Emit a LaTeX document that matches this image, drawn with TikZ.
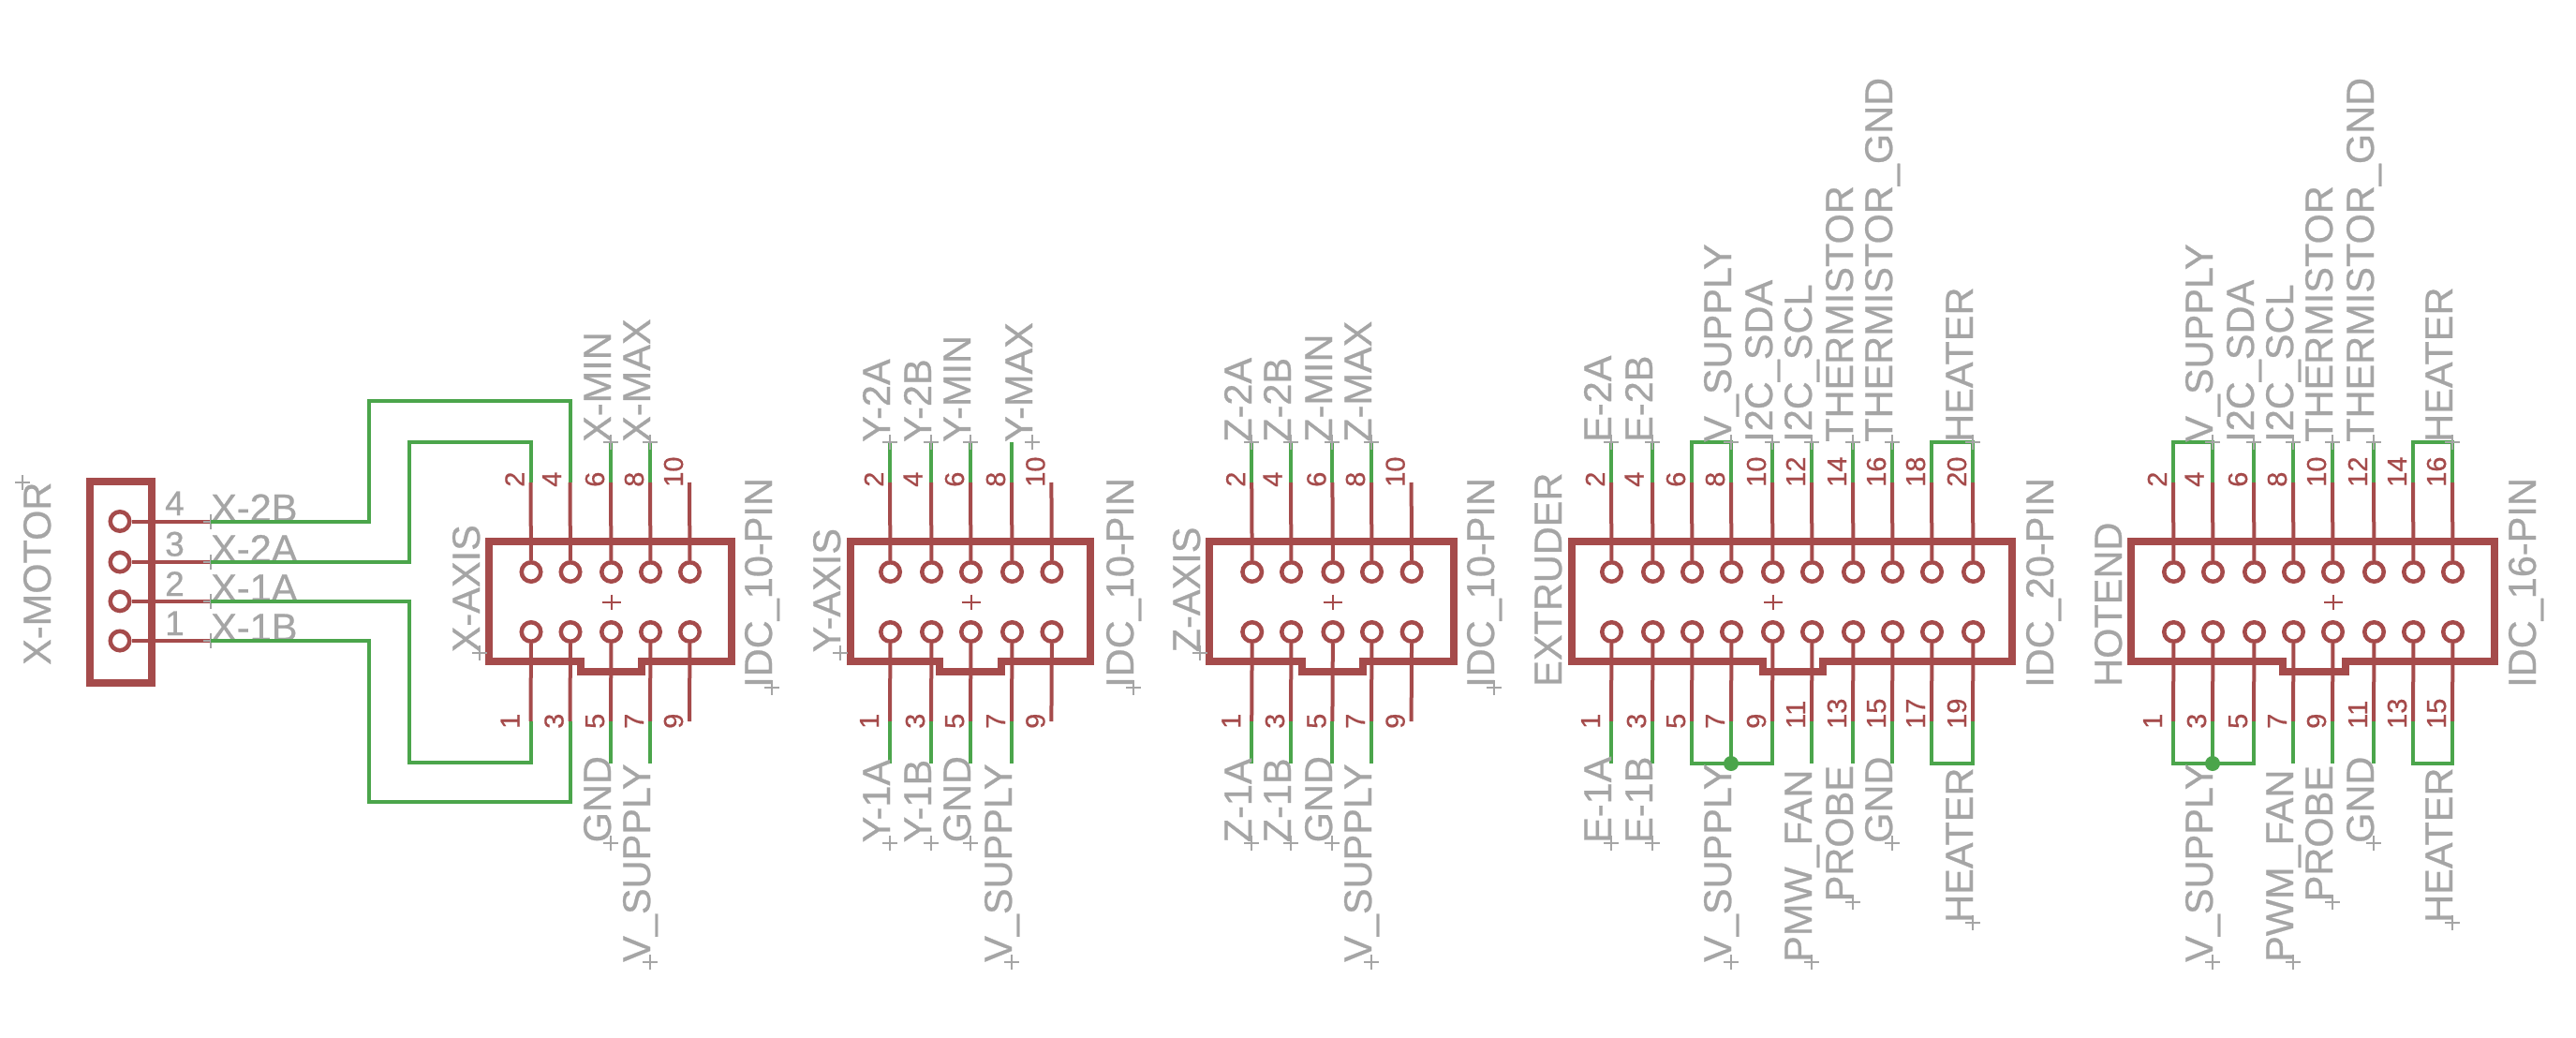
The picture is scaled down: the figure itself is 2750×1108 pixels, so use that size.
\documentclass[tikz,border=0pt]{standalone}
\usepackage{fontspec}
\setmainfont{Liberation Sans}[FakeBold=0.6]
\definecolor{eagred}{RGB}{165,75,75}
\definecolor{eaggreen}{RGB}{75,165,75}
\definecolor{eaggrey}{RGB}{165,165,165}
\newcounter{labc}
\tikzset{
  x=1pt,y=-1pt,
  boxline/.style={draw=eagred,line width=8pt,line join=miter},
  pinline/.style={draw=eagred,line width=4pt},
  padring/.style={circle,draw=eagred,line width=4.5pt,fill=white,minimum size=20.5pt,inner sep=0pt},
  gwire/.style={draw=eaggreen,line width=4pt,line join=miter},
  crossmark/.style={draw=eaggrey,line width=2pt},
  cmark/.style={draw=eagred,line width=2pt},
  biglab/.style={text=eaggrey,inner sep=0pt,font=\fontsize{41.5}{41.5}\selectfont},
  pinnum/.style={text=eagred,inner sep=0pt,rotate=90,anchor=base west,font=\fontsize{29}{29}\selectfont},
  motnum/.style={text=eaggrey,inner sep=0pt,anchor=base west,font=\fontsize{37}{37}\selectfont},
}
% rotated grey label with origin cross
\newcommand{\vlab}[3]{%
  \stepcounter{labc}%
  \node[biglab,rotate=90,anchor=base west] (lab\arabic{labc}) at (#1,#2) {#3};%
  \draw[crossmark] (#1-8,#2)--(#1+8,#2) (#1,#2-8)--(#1,#2+8);}
% same without the cross
\newcommand{\vlabn}[3]{%
  \stepcounter{labc}%
  \node[biglab,rotate=90,anchor=base west] (lab\arabic{labc}) at (#1,#2) {#3};}
% horizontal label with origin cross
\newcommand{\hlab}[3]{%
  \stepcounter{labc}%
  \node[biglab,anchor=base west] (lab\arabic{labc}) at (#1,#2) {#3};%
  \draw[crossmark] (#1-8,#2)--(#1+8,#2) (#1,#2-8)--(#1,#2+8);}
% header: #1 name, #2 left, #3 right, #4 notch left, #5 notch right, #6 centre x, #7 list of pin x
\newcommand{\hdr}[7]{%
  \foreach \px [count=\pi] in {#7} {%
    \pgfmathtruncatemacro{\nt}{2*\pi}%
    \pgfmathtruncatemacro{\nb}{2*\pi-1}%
    \coordinate (#1-t\pi) at (\px,515);%
    \coordinate (#1-b\pi) at (\px,770);%
    \coordinate (#1-gt\pi) at (\px,472);%
    \coordinate (#1-gb\pi) at (\px,815);%
    \node[padring] (#1-pt\pi) at (\px+0.5,610.5) {};%
    \node[padring] (#1-pb\pi) at (\px+0.5,674.5) {};%
    \draw[pinline] (#1-t\pi) -- (#1-pt\pi);%
    \draw[pinline] (#1-b\pi) -- (#1-pb\pi);%
    \pgfmathsetmacro{\ot}{ifthenelse(\nt==4,9.5,7)}%
    \pgfmathsetmacro{\ob}{ifthenelse(\nb==1,12,7)}%
    \node[pinnum] (#1-nt\pi) at (\px-\ot,520) {\nt};%
    \node[pinnum] (#1-nb\pi) at (\px-\ob,778) {\nb};%
  }%
  \draw[boxline] (#2,578) -- (#3,578) -- (#3,705.5) -- (#5,705.5) -- (#5,717) -- (#4,717) -- (#4,705.5) -- (#2,705.5) -- cycle;%
  \draw[cmark] (#6-10,642.5)--(#6+10,642.5) (#6,634.5)--(#6,650.5);%
}
\newcommand{\gt}[2]{\draw[gwire] (#1-t#2) -- (#1-gt#2);}
\newcommand{\gb}[2]{\draw[gwire] (#1-b#2) -- (#1-gb#2);}
\newcommand{\gtj}[3]{\draw[gwire] (#1-t#2) -- (#1-gt#2) -- (#1-gt#3) -- (#1-t#3);}
\newcommand{\gbj}[3]{\draw[gwire] (#1-b#2) -- (#1-gb#2) -- (#1-gb#3) -- (#1-b#3);}
\begin{document}
\begin{tikzpicture}
\useasboundingbox (0,0) rectangle (2750,1108);
\fill[white] (0,0) rectangle (2750,1108);

% ---------- motor connector
\draw[boxline] (96,514) rectangle (161.5,729);
\foreach \yy/\k in {684/1,641.8/2,600/3,556.5/4} {
  \node[padring] (M-p\k) at (128,\yy) {};
  \coordinate (M-e\k) at (225,\yy);
  \draw[pinline] (M-p\k) -- (M-e\k);
}
\node[motnum] (M-n4) at (176,550) {4};
\node[motnum] (M-n3) at (176,593.5) {3};
\node[motnum] (M-n2) at (176,636) {2};
\node[motnum] (M-n1) at (176,678) {1};
\hlab{225}{556.5}{X-2B}
\hlab{225}{600}{X-2A}
\hlab{225}{641.8}{X-1A}
\hlab{225}{684}{X-1B}
\vlabn{54}{710}{X-MOTOR}
\draw[crossmark] (16,515)--(32,515) (24,507)--(24,523);

% ---------- X axis
\hdr{X}{522}{780.5}{619.5}{684.5}{652.5}{566.5,608.5,652,694,736}
\coordinate (w2) at (437.4,471.6);
\coordinate (w4) at (394,428);
\coordinate (w1) at (437.4,813.5);
\coordinate (w3) at (394,856);
\draw[gwire] (M-e3) -| (w2) -| (X-t1);
\draw[gwire] (M-e4) -| (w4) -| (X-t2);
\draw[gwire] (M-e2) -| (w1) -| (X-b1);
\draw[gwire] (M-e1) -| (w3) -| (X-b2);
\gt{X}{3}\gt{X}{4}\gb{X}{3}\gb{X}{4}
\vlab{652}{472}{X-MIN}
\vlab{694}{472}{X-MAX}
\vlab{652}{899.5}{GND}
\vlab{694}{1027}{V\_SUPPLY}
\vlab{512}{696.5}{X-AXIS}
\vlab{824}{734}{IDC\_10-PIN}

% ---------- Y axis
\hdr{Y}{907.7}{1164.3}{1003}{1069.4}{1036.5}{950,994,1036,1080,1122.4}
\gt{Y}{1}\gt{Y}{2}\gt{Y}{3}\gt{Y}{4}\gb{Y}{1}\gb{Y}{2}\gb{Y}{3}\gb{Y}{4}
\vlab{950}{472}{Y-2A}
\vlab{994}{472}{Y-2B}
\vlab{1036}{472}{Y-MIN}
\vlab{1102}{472}{Y-MAX}
\vlab{950}{899.5}{Y-1A}
\vlab{994}{899.5}{Y-1B}
\vlab{1036}{899.5}{GND}
\vlab{1080}{1027}{V\_SUPPLY}
\vlab{897}{696.5}{Y-AXIS}
\vlab{1210}{734}{IDC\_10-PIN}

% ---------- Z axis
\hdr{Z}{1291.3}{1551.5}{1389.8}{1455}{1422.5}{1336.2,1378,1422.4,1464,1506.6}
\gt{Z}{1}\gt{Z}{2}\gt{Z}{3}\gt{Z}{4}\gb{Z}{1}\gb{Z}{2}\gb{Z}{3}\gb{Z}{4}
\vlab{1336}{472}{Z-2A}
\vlab{1378}{472}{Z-2B}
\vlab{1422}{472}{Z-MIN}
\vlab{1464}{472}{Z-MAX}
\vlab{1336}{899.5}{Z-1A}
\vlab{1378}{899.5}{Z-1B}
\vlab{1422}{899.5}{GND}
\vlab{1464}{1027}{V\_SUPPLY}
\vlab{1281}{696.5}{Z-AXIS}
\vlab{1595}{734}{IDC\_10-PIN}

% ---------- Extruder
\hdr{E}{1678}{2148}{1882}{1946}{1893}{1720,1764,1806,1848,1892,1934,1978,2020,2062,2106}
\gt{E}{1}\gt{E}{2}\gtj{E}{3}{4}\gt{E}{5}\gt{E}{6}\gt{E}{7}\gt{E}{8}\gtj{E}{9}{10}
\gb{E}{1}\gb{E}{2}
\draw[gwire] (E-b3) -- (E-gb3) -- (E-gb5) -- (E-b5);
\gb{E}{4}\gb{E}{6}\gb{E}{7}\gb{E}{8}\gbj{E}{9}{10}
\fill[eaggreen] (E-gb4) circle (8);
\vlab{1720}{472}{E-2A}
\vlab{1764}{472}{E-2B}
\vlab{1848}{472}{V\_SUPPLY}
\vlab{1892}{472}{I2C\_SDA}
\vlab{1934}{472}{I2C\_SCL}
\vlab{1978}{472}{THERMISTOR}
\vlab{2020}{472}{THERMISTOR\_GND}
\vlab{2106}{472}{HEATER}
\vlab{1720}{900}{E-1A}
\vlab{1764}{900}{E-1B}
\vlab{1848}{1027}{V\_SUPPLY}
\vlab{1934}{1027}{PMW\_FAN}
\vlab{1978}{962.5}{PROBE}
\vlab{2020}{900}{GND}
\vlab{2106}{985}{HEATER}
\vlabn{1667}{733}{EXTRUDER}
\vlabn{2192}{734}{IDC\_20-PIN}

% ---------- Hotend
\hdr{H}{2275.4}{2662.5}{2437}{2503.5}{2491}{2320,2362,2406,2448,2490,2534,2576,2618}
\gtj{H}{1}{2}\gt{H}{3}\gt{H}{4}\gt{H}{5}\gt{H}{6}\gtj{H}{7}{8}
\draw[gwire] (H-b1) -- (H-gb1) -- (H-gb3) -- (H-b3);
\gb{H}{2}\gb{H}{4}\gb{H}{5}\gb{H}{6}\gbj{H}{7}{8}
\fill[eaggreen] (H-gb2) circle (8);
\vlab{2362}{472}{V\_SUPPLY}
\vlab{2406}{472}{I2C\_SDA}
\vlab{2448}{472}{I2C\_SCL}
\vlab{2490}{472}{THERMISTOR}
\vlab{2534}{472}{THERMISTOR\_GND}
\vlab{2618}{472}{HEATER}
\vlab{2362}{1027}{V\_SUPPLY}
\vlab{2448}{1027}{PWM\_FAN}
\vlab{2490}{962.5}{PROBE}
\vlab{2534}{900}{GND}
\vlab{2618}{985}{HEATER}
\vlabn{2265}{733}{HOTEND}
\vlabn{2707}{734}{IDC\_16-PIN}
\end{tikzpicture}
\end{document}
